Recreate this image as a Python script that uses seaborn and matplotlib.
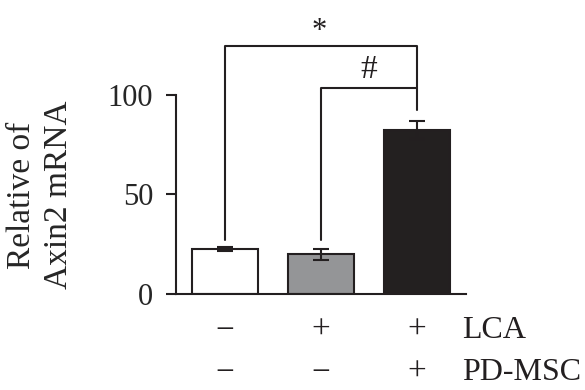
import numpy as np
import pandas as pd
import seaborn as sns
import matplotlib.pyplot as plt

# values
groups = ["ctrl", "LCA", "LCA+PD-MSC"]
means = [22.6, 19.9, 82.4]
errors = [1.0, 2.8, 4.5]
bar_colors = ["#ffffff", "#939598", "#231f20"]
lca_row = ["\u2212", "+", "+"]
pdmsc_row = ["\u2212", "\u2212", "+"]
row_names = ["LCA", "PD-MSC"]

sns.set_style("white")
plt.rcParams["font.family"] = ["Liberation Serif", "DejaVu Serif"]
dark = "#231f20"

df = pd.DataFrame({"group": groups, "value": means})

fig = plt.figure(figsize=(5.85, 3.9), dpi=100)
ax = fig.add_axes([0.3009, 0.2462, 0.4957, 0.6633])

sns.barplot(data=df, x="group", y="value", hue="group", palette=bar_colors,
            order=groups, errorbar=None, width=0.68, edgecolor=dark,
            linewidth=1.5, legend=False, ax=ax)
ax.errorbar(np.arange(len(groups)), means, yerr=errors, fmt="none",
            ecolor=dark, elinewidth=1.5, capsize=6, capthick=1.5)

ax.set_xlim(-0.51, 2.51)
ax.set_ylim(0, 130)
ax.set_yticks([0, 50, 100])
ax.spines["left"].set_bounds(0, 100)
for s in ["top", "right"]:
    ax.spines[s].set_visible(False)
for s in ["left", "bottom"]:
    ax.spines[s].set_color(dark)
    ax.spines[s].set_linewidth(1.5)
ax.tick_params(axis="y", direction="out", length=7.5, width=1.5, color=dark,
               labelsize=22, pad=9, left=True)
ax.tick_params(axis="x", bottom=False, labelbottom=False)
ax.set_xlabel("")
ax.set_ylabel("Relative of\nAxin2 mRNA", fontsize=24, linespacing=1.25,
              va="center", ha="center")
ax.yaxis.set_label_coords(-0.468, 0.383)

# significance brackets
lw = 1.5
ax.plot([0, 0, 2, 2], [27, 124.5, 124.5, 92.5], color=dark, lw=lw, clip_on=False)
ax.plot([1, 1, 2], [27, 103.4, 103.4], color=dark, lw=lw, clip_on=False)
ax.text(0.98, 132, "*", ha="center", va="center", fontsize=22, color=dark)
ax.text(1.5, 112.5, "#", ha="center", va="center", fontsize=24, color=dark)

# treatment table under the bars
trans = ax.get_xaxis_transform()
for i in range(len(groups)):
    ax.text(i, -0.141, lca_row[i], transform=trans, ha="center", va="center",
            fontsize=24, color=dark)
    ax.text(i, -0.305, pdmsc_row[i], transform=trans, ha="center", va="center",
            fontsize=24, color=dark)
ax.text(2.47, -0.141, row_names[0], transform=trans, ha="left", va="center",
        fontsize=23, color=dark)
ax.text(2.47, -0.305, row_names[1], transform=trans, ha="left", va="center",
        fontsize=23, color=dark)

fig.savefig("out.png", dpi=100)
